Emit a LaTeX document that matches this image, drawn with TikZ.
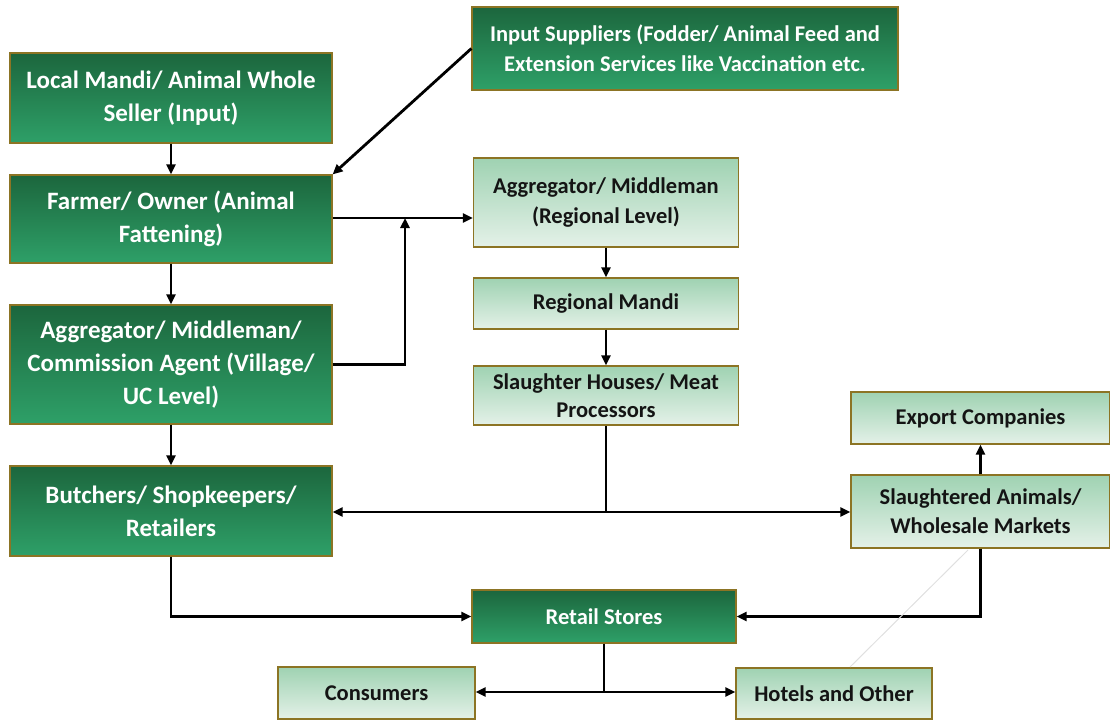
\documentclass[tikz,border=0pt]{standalone}
\usepackage{fontspec}
\setmainfont{Carlito}
\usetikzlibrary{arrows.meta}
\definecolor{darktop}{HTML}{1C663D}
\definecolor{darkbot}{HTML}{2EA068}
\definecolor{lighttop}{HTML}{9FD2B2}
\definecolor{lightbot}{HTML}{E4F1E8}
\definecolor{rim}{HTML}{8C7424}
\definecolor{ink}{HTML}{141414}
\tikzset{
  box/.style={draw=rim, line width=1.2pt, inner sep=2pt, align=center},
  darkbox/.style={box, top color=darktop, bottom color=darkbot, text=white,
    font=\fontsize{25}{33}\selectfont\bfseries},
  lightbox/.style={box, top color=lighttop, bottom color=lightbot, text=ink,
    font=\fontsize{22.5}{30}\selectfont\bfseries},
  smalldark/.style={darkbox, font=\fontsize{22.5}{30}\selectfont\bfseries},
  flow/.style={line width=2.8pt, draw=black, -{Triangle[length=10pt,width=9pt]}},
  plain/.style={line width=2.8pt, draw=black},
}
\begin{document}
\begin{tikzpicture}[x={(1pt,0)}, y={(0,-1pt)}]
\useasboundingbox (0,0) rectangle (1110,720);

% left column
\node[darkbox, minimum width=322pt, minimum height=90pt] (mandi) at (171,98) {Local Mandi/ Animal Whole\\Seller (Input)};
\node[darkbox, minimum width=322pt, minimum height=88pt] (farmer) at (171,219) {Farmer/ Owner (Animal\\Fattening)};
\node[darkbox, minimum width=322pt, minimum height=119pt] (village) at (171,364.5) {Aggregator/ Middleman/\\Commission Agent (Village/\\UC Level)};
\node[darkbox, minimum width=322pt, minimum height=90pt] (butcher) at (171,511) {Butchers/ Shopkeepers/\\Retailers};

% top supplier box
\node[smalldark, minimum width=426pt, minimum height=83pt] (input) at (685,48.5) {Input Suppliers (Fodder/ Animal Feed and\\Extension Services like Vaccination etc.};

% middle column
\node[lightbox, minimum width=265pt, minimum height=89pt] (regional) at (606,202.5) {Aggregator/ Middleman\\(Regional Level)};
\node[lightbox, minimum width=265pt, minimum height=51pt] (rmandi) at (606,303.5) {Regional Mandi};
\node[lightbox, minimum width=265pt, minimum height=59pt, font=\fontsize{22.5}{28}\selectfont\bfseries] (slaughter) at (606,395.5) {Slaughter Houses/ Meat\\Processors};

% right column
\node[lightbox, minimum width=259pt, minimum height=52pt] (export) at (980.5,418) {Export Companies};
\node[lightbox, minimum width=259pt, minimum height=73pt, font=\fontsize{22.5}{29}\selectfont\bfseries] (wholesale) at (980.5,511.5) {Slaughtered Animals/\\Wholesale Markets};

% bottom row
\node[smalldark, minimum width=264pt, minimum height=53pt] (retail) at (604,616.5) {Retail Stores};
\node[lightbox, minimum width=197pt, minimum height=52pt] (consumer) at (376.5,693) {Consumers};
\node[lightbox, minimum width=196pt, minimum height=51pt] (hotel) at (834,693.5) {Hotels and Other};

% junction points
\coordinate (jfarm) at (405,218);
\coordinate (jslaughter) at (606,512);
\coordinate (jretail) at (604,692);

% connectors
\draw[flow] (mandi.south) -- (farmer.north);
\draw[flow] (input.west) -- (farmer.north east);
\draw[flow] (farmer.south) -- (village.north);
\draw[flow] (village.south) -- (butcher.north);
\draw[flow] (farmer.east |- jfarm) -- (regional.west |- jfarm);
\draw[flow] (village.east) -| (jfarm);
\draw[flow] (regional.south) -- (rmandi.north);
\draw[flow] (rmandi.south) -- (slaughter.north);
\draw[plain] (slaughter.south) -- (jslaughter);
\draw[flow] (jslaughter) -- (butcher.east |- jslaughter);
\draw[flow] (jslaughter) -- (wholesale.west |- jslaughter);
\draw[flow] (wholesale.north) -- (export.south);
\draw[flow] (butcher.south) |- (retail.west);
\draw[flow] (wholesale.south) |- (retail.east);
\draw[plain] (retail.south) -- (jretail);
\draw[flow] (jretail) -- (consumer.east |- jretail);
\draw[flow] (jretail) -- (hotel.west |- jretail);

% faint stray stroke
\draw[black!12, line width=1pt] (968,550) -- (850,667);
\end{tikzpicture}
\end{document}
